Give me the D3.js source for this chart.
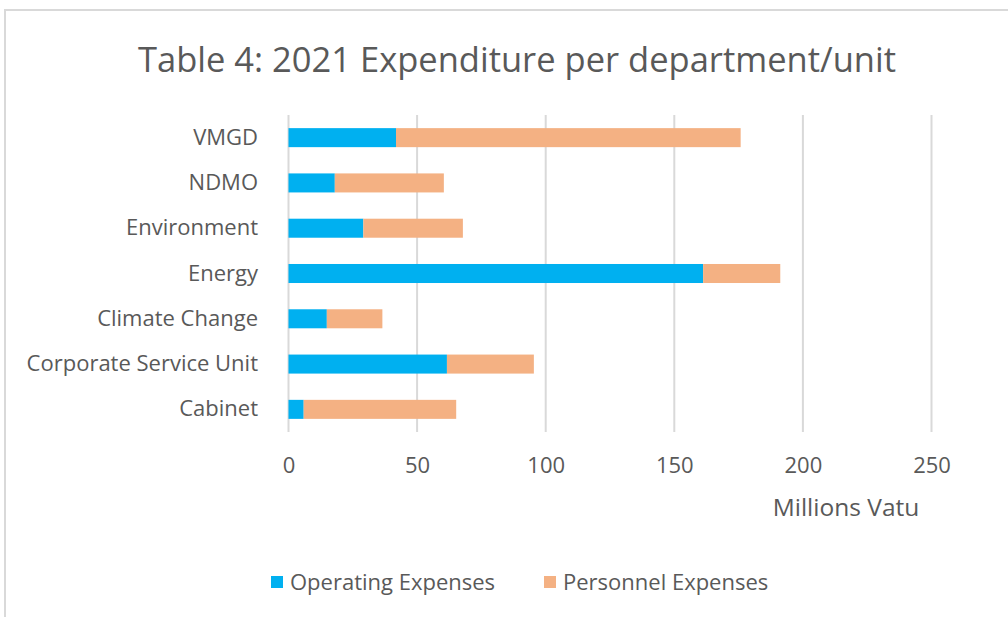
<!DOCTYPE html>
<html>
<head>
<meta charset="utf-8">
<script src="https://cdn.jsdelivr.net/npm/d3@7"></script>
<style>
  body { margin: 0; background: #fff; }
  text { font-family: "Open Sans", "Noto Sans", sans-serif; fill: #595959; }
</style>
</head>
<body>
<div id="chart"></div>
<script>
// data (millions of vatu)
var departments = ["VMGD", "NDMO", "Environment", "Energy", "Climate Change", "Corporate Service Unit", "Cabinet"];
var operating = [41.8, 18.0, 29.1, 161.2, 14.9, 61.6, 5.9];
var personnel = [134.0, 42.4, 38.7, 30.0, 21.6, 33.8, 59.3];
var seriesNames = ["Operating Expenses", "Personnel Expenses"];
var xTicks = [0, 50, 100, 150, 200, 250];

var width = 1008,
  height = 617;

var colors = ["#00B0F0", "#F4B183"];

var svg = d3.select("#chart")
  .append("svg")
  .attr("width", width)
  .attr("height", height);

// chart frame (cut off at right and bottom)
svg.append("path")
  .attr("d", "M5,617V10H1008")
  .style("fill", "none")
  .style("stroke", "#d9d9d9")
  .style("stroke-width", 2);

svg.append("text")
  .attr("x", 517)
  .attr("y", 72)
  .attr("text-anchor", "middle")
  .style("font-size", "34.5px")
  .text("Table 4: 2021 Expenditure per department/unit");

var x = d3.scaleLinear()
  .domain([0, 250])
  .range([288.5, 931.5]);

var y = d3.scaleBand()
  .domain(departments)
  .range([115, 432])
  .paddingInner(0.58)
  .paddingOuter(0.29);

// gridlines
svg.append("g")
  .selectAll("line")
  .data(xTicks)
  .enter().append("line")
  .attr("x1", function(d) { return x(d); })
  .attr("x2", function(d) { return x(d); })
  .attr("y1", 115)
  .attr("y2", 432)
  .style("stroke", "#d9d9d9")
  .style("stroke-width", 2);

// x axis labels
var xAxis = d3.axisBottom(x)
  .tickValues(xTicks)
  .tickSize(0)
  .tickPadding(0);

var gx = svg.append("g")
  .attr("transform", "translate(0,457)")
  .call(xAxis);
gx.select(".domain").remove();
gx.selectAll("text")
  .attr("dy", "0.71em")
  .style("font-size", "22px")
  .style("font-family", null)
  .attr("fill", null);

// y axis labels
var yAxis = d3.axisLeft(y)
  .tickSize(0)
  .tickPadding(0);

var gy = svg.append("g")
  .attr("transform", "translate(258,0)")
  .call(yAxis);
gy.select(".domain").remove();
gy.selectAll("text")
  .style("font-size", "22px")
  .style("font-family", null)
  .attr("fill", null);

svg.append("text")
  .attr("x", 846)
  .attr("y", 516)
  .attr("text-anchor", "middle")
  .style("font-size", "24.5px")
  .text("Millions Vatu");

// stacked bars
var rows = departments.map(function(d, i) {
  return { name: d, operating: operating[i], personnel: personnel[i] };
});
var stack = d3.stack().keys(["operating", "personnel"]);
var layers = stack(rows);

svg.append("g")
  .selectAll("g")
  .data(layers)
  .enter().append("g")
  .style("fill", function(d, i) { return colors[i]; })
  .selectAll("rect")
  .data(function(d) { return d; })
  .enter().append("rect")
  .attr("x", function(d) { return x(d[0]); })
  .attr("width", function(d) { return x(d[1]) - x(d[0]); })
  .attr("y", function(d) { return y(d.data.name); })
  .attr("height", y.bandwidth());

// legend
var legendX = [271, 544];
var legend = svg.append("g")
  .selectAll("g")
  .data(seriesNames)
  .enter().append("g")
  .attr("transform", function(d, i) { return "translate(" + legendX[i] + ",0)"; });

legend.append("rect")
  .attr("y", 576)
  .attr("width", 12)
  .attr("height", 12)
  .style("fill", function(d, i) { return colors[i]; });

legend.append("text")
  .attr("x", 19)
  .attr("y", 590)
  .style("font-size", "22px")
  .text(function(d) { return d; });
</script>
</body>
</html>
